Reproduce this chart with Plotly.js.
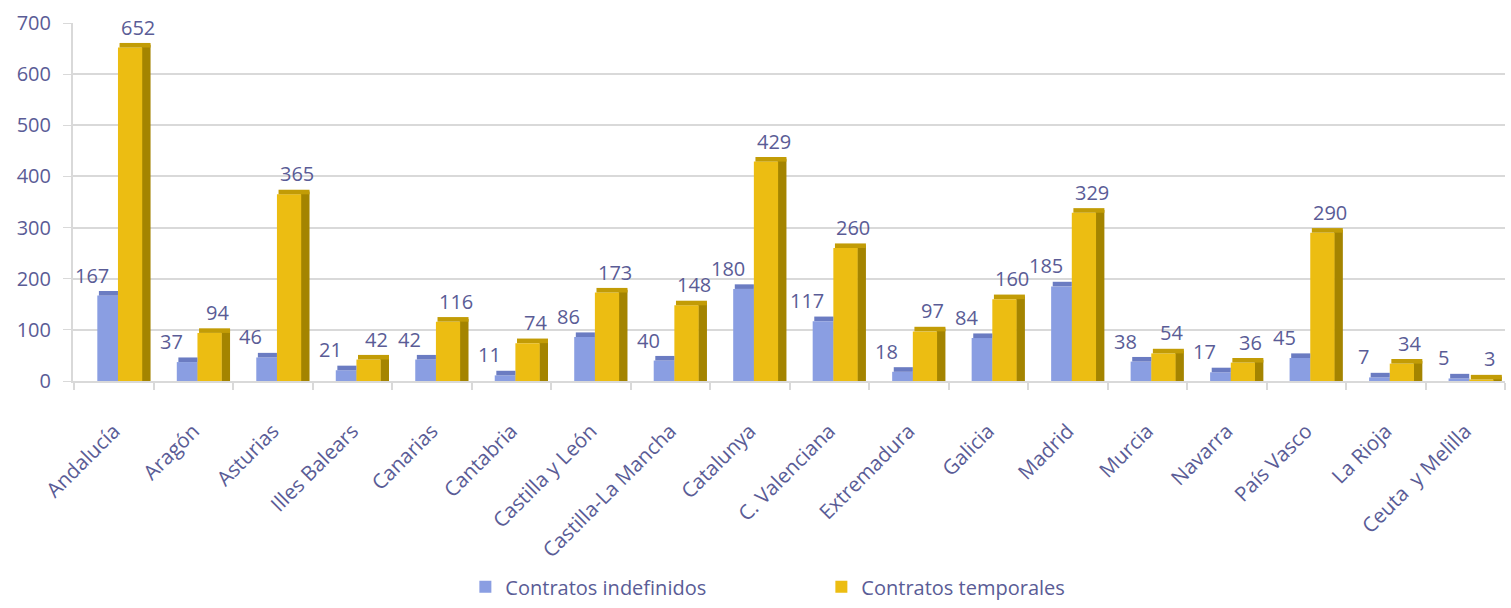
<!DOCTYPE html>
<html><head><meta charset="utf-8">
<script src="https://cdn.plot.ly/plotly-3.0.1.min.js"></script>
<style>html,body{margin:0;padding:0;background:#fff}#c{width:1511px;height:608px}</style>
</head><body><div id="c"></div>
<script>
const categories = ["Andalucía","Aragón","Asturias","Illes Balears","Canarias","Cantabria","Castilla y León","Castilla-La Mancha","Catalunya","C. Valenciana","Extremadura","Galicia","Madrid","Murcia","Navarra","País Vasco","La Rioja","Ceuta  y Melilla"];
const indefinidos = [167,37,46,21,42,11,86,40,180,117,18,84,185,38,17,45,7,5];
const temporales = [652,94,365,42,116,74,173,148,429,260,97,160,329,54,36,290,34,3];
const yTicks = [0,100,200,300,400,500,600,700];

const txt = '#5a5c96';
const font = "'Open Sans', sans-serif";
const capH = 9;   // pseudo-3D cap thickness (data units)
const none = {hoverinfo:'skip', showlegend:false};

const traces = [
  // yellow side faces
  Object.assign({type:'bar', x:categories, y:temporales.map(v => v + capH*0.6), offset:0.35, width:0.11,
   marker:{color:'#a48400', line:{width:0}}}, none),
  // blue front faces
  {type:'bar', name:'Contratos indefinidos', x:categories, y:indefinidos, offset:-0.21, width:0.265,
   marker:{color:'#8a9ee2', line:{width:0}}},
  // yellow front faces
  {type:'bar', name:'Contratos temporales', x:categories, y:temporales, offset:0.05, width:0.305,
   marker:{color:'#ecbd12', line:{width:0}}},
  // blue caps
  Object.assign({type:'bar', x:categories, y:indefinidos.map(() => capH), base:indefinidos, offset:-0.19, width:0.24,
   marker:{color:'#6b7cc2', line:{width:0}}}, none),
  // yellow caps
  Object.assign({type:'bar', x:categories, y:temporales.map(() => capH), base:temporales, offset:0.07, width:0.39,
   marker:{color:'#c29c06', line:{width:0}}}, none)
];

const annotations = [];
categories.forEach((c, i) => {
  annotations.push({x:c, y:indefinidos[i], text:String(indefinidos[i]), showarrow:false,
    xanchor:'center', yanchor:'bottom', xshift:-22, yshift:5, font:{size:20, color:txt, family:font}});
  annotations.push({x:c, y:temporales[i], text:String(temporales[i]), showarrow:false,
    xanchor:'center', yanchor:'bottom', xshift:24, yshift:5, font:{size:20, color:txt, family:font}});
});

const layout = {
  width:1511, height:608,
  margin:{l:73, r:6, t:23, b:227, autoexpand:false},
  paper_bgcolor:'#fff', plot_bgcolor:'#fff',
  font:{family:font, color:txt, size:19},
  barmode:'overlay',
  showlegend:true,
  legend:{orientation:'h', x:0.274, xanchor:'left', y:-0.575, yanchor:'middle',
          font:{size:20, color:txt, family:font}, itemwidth:30, entrywidth:311, entrywidthmode:'pixels',
          traceorder:'normal', borderwidth:0},
  annotations: annotations,
  xaxis:{type:'category', tickangle:-45, tickfont:{size:20.5, color:txt, family:font},
         ticks:'outside', tickson:'boundaries', ticklen:7, tickcolor:'#d9d9d9', tickwidth:2,
         ticklabelstandoff:28, automargin:false,
         showline:true, linecolor:'#d9d9d9', linewidth:2, showgrid:false, fixedrange:true},
  yaxis:{range:[0,700], tickvals:yTicks, ticktext:yTicks.map(String), automargin:false,
         tickfont:{size:20, color:txt, family:font}, gridcolor:'#d9d9d9', gridwidth:2,
         zeroline:false, showline:true, linecolor:'#d9d9d9', linewidth:2,
         ticks:'outside', ticklen:8, tickcolor:'#d9d9d9', ticklabelstandoff:8, fixedrange:true}
};
Plotly.newPlot('c', traces, layout, {displayModeBar:false, staticPlot:true});
</script></body></html>
